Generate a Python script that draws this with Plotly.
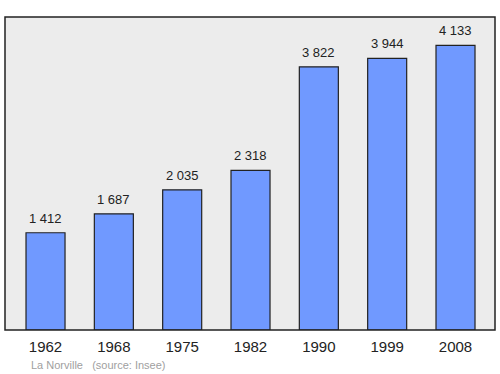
import plotly.graph_objects as go

years = ["1962", "1968", "1975", "1982", "1990", "1999", "2008"]
population = [1412, 1687, 2035, 2318, 3822, 3944, 4133]
value_labels = ["1 412", "1 687", "2 035", "2 318", "3 822", "3 944", "4 133"]
place = "La Norville"
source = "(source: Insee)"

xs = list(range(len(years)))

fig = go.Figure()
fig.add_trace(go.Bar(
    x=xs, y=population, width=0.571,
    marker=dict(color="#7099ff", line=dict(color="#222222", width=1.2)),
    hoverinfo="skip",
))

for x, v, t in zip(xs, population, value_labels):
    fig.add_annotation(x=x, y=v, text=t, showarrow=False, yanchor="bottom",
                       yshift=5, font=dict(size=13, color="#222222",
                                           family="Liberation Sans"))

fig.add_annotation(xref="paper", yref="paper", x=0.049, y=-0.112,
                   xanchor="left", yanchor="middle", showarrow=False,
                   text=place + "   " + source,
                   font=dict(size=11, color="#a0a0a0", family="Liberation Sans"))

fig.add_shape(type="rect", xref="paper", yref="paper", x0=0, y0=0, x1=1, y1=1,
              line=dict(color="#222222", width=1.5), layer="above")

fig.update_layout(
    width=500, height=374,
    margin=dict(l=5, r=5, t=17, b=44),
    paper_bgcolor="white", plot_bgcolor="#ececec",
    showlegend=False,
    font=dict(family="Liberation Sans"),
    xaxis=dict(range=[-0.593, 6.578], tickvals=xs, ticktext=years,
               showgrid=False, zeroline=False, ticks="", showline=False,
               ticklabelstandoff=6,
               tickfont=dict(size=15, color="#222222")),
    yaxis=dict(range=[0, 4545], showgrid=False, zeroline=False,
               showticklabels=False, ticks="", showline=False),
)

fig.write_html("out.html")
